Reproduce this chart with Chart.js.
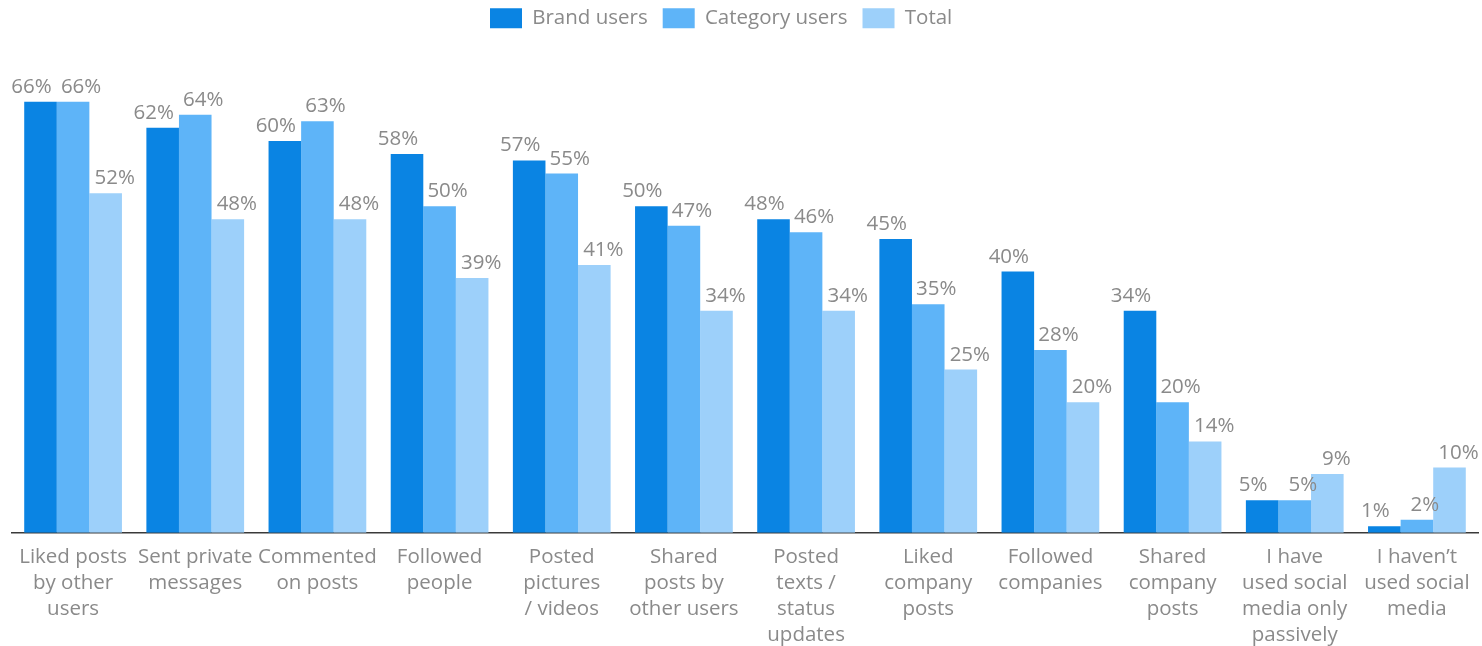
<!DOCTYPE html>
<html>
<head>
<meta charset="utf-8">
<script src="https://cdn.jsdelivr.net/npm/chart.js@4/dist/chart.umd.min.js"></script>
<style>
  html, body { margin: 0; padding: 0; background: #fff; }
  #wrap { width: 1482px; height: 646px; position: relative; }
</style>
</head>
<body>
<div id="wrap"><canvas id="c"></canvas></div>
<script>
// Social media activities by user group (%)
const categories = [
  ["Liked posts", "by other", "users"],
  ["Sent private", "messages"],
  ["Commented", "on posts"],
  ["Followed", "people"],
  ["Posted", "pictures", "/ videos"],
  ["Shared", "posts by", "other users"],
  ["Posted", "texts /", "status", "updates"],
  ["Liked", "company", "posts"],
  ["Followed", "companies"],
  ["Shared", "company", "posts"],
  ["I have", "used social", "media only", "passively"],
  ["I haven\u2019t", "used social", "media"]
];
const seriesNames = ["Brand users", "Category users", "Total"];
const brandUsers    = [66, 62, 60, 58, 57, 50, 48, 45, 40, 34, 5, 1];
const categoryUsers = [66, 64, 63, 50, 55, 47, 46, 35, 28, 20, 5, 2];
const totalUsers    = [52, 48, 48, 39, 41, 34, 34, 25, 20, 14, 9, 10];

const colors = ["#0a84e3", "#5eb4f8", "#9dd0fa"];
const labelNudge = [-9, 8, 9];
const FONT = "'Open Sans', 'Noto Sans', sans-serif";
const TEXT = "#8a8a8a";

// value labels above each bar
const valueLabels = {
  id: 'valueLabels',
  afterDatasetsDraw(chart) {
    const ctx = chart.ctx;
    ctx.save();
    ctx.font = "20.5px " + FONT;
    ctx.fillStyle = TEXT;
    ctx.textAlign = 'center';
    ctx.textBaseline = 'alphabetic';
    chart.data.datasets.forEach((ds, di) => {
      chart.getDatasetMeta(di).data.forEach((bar, i) => {
        ctx.fillText(ds.data[i] + '%', bar.x + labelNudge[di], bar.y - 9);
      });
    });
    ctx.restore();
  }
};

// place the legend row
const legendPlacement = {
  id: 'legendPlacement',
  afterLayout(chart) {
    const lg = chart.legend;
    if (lg) { lg.left = 475; lg.top = -7; }
  }
};

new Chart(document.getElementById('c'), {
  type: 'bar',
  data: {
    labels: categories,
    datasets: [
      { label: seriesNames[0], data: brandUsers,    backgroundColor: colors[0] },
      { label: seriesNames[1], data: categoryUsers, backgroundColor: colors[1] },
      { label: seriesNames[2], data: totalUsers,    backgroundColor: colors[2] }
    ]
  },
  options: {
    responsive: true,
    maintainAspectRatio: false,
    animation: false,
    devicePixelRatio: 1,
    layout: { padding: { left: 12, right: 4, top: 0, bottom: -13 } },
    datasets: { bar: { barPercentage: 1, categoryPercentage: 0.8 } },
    plugins: {
      legend: {
        position: 'top',
        align: 'start',
        labels: {
          boxWidth: 32,
          boxHeight: 20,
          padding: 15,
          color: TEXT,
          font: { family: FONT, size: 20.5 }
        }
      },
      tooltip: { enabled: false }
    },
    scales: {
      x: {
        grid: { display: false, drawTicks: false },
        border: { display: true, color: '#3a3a3a', width: 1.5 },
        ticks: {
          color: TEXT,
          autoSkip: false,
          maxRotation: 0,
          padding: 11,
          font: { family: FONT, size: 20.5, lineHeight: 1.27 }
        }
      },
      y: {
        display: false,
        min: 0,
        max: 74.6
      }
    }
  },
  plugins: [valueLabels, legendPlacement]
});
</script>
</body>
</html>
